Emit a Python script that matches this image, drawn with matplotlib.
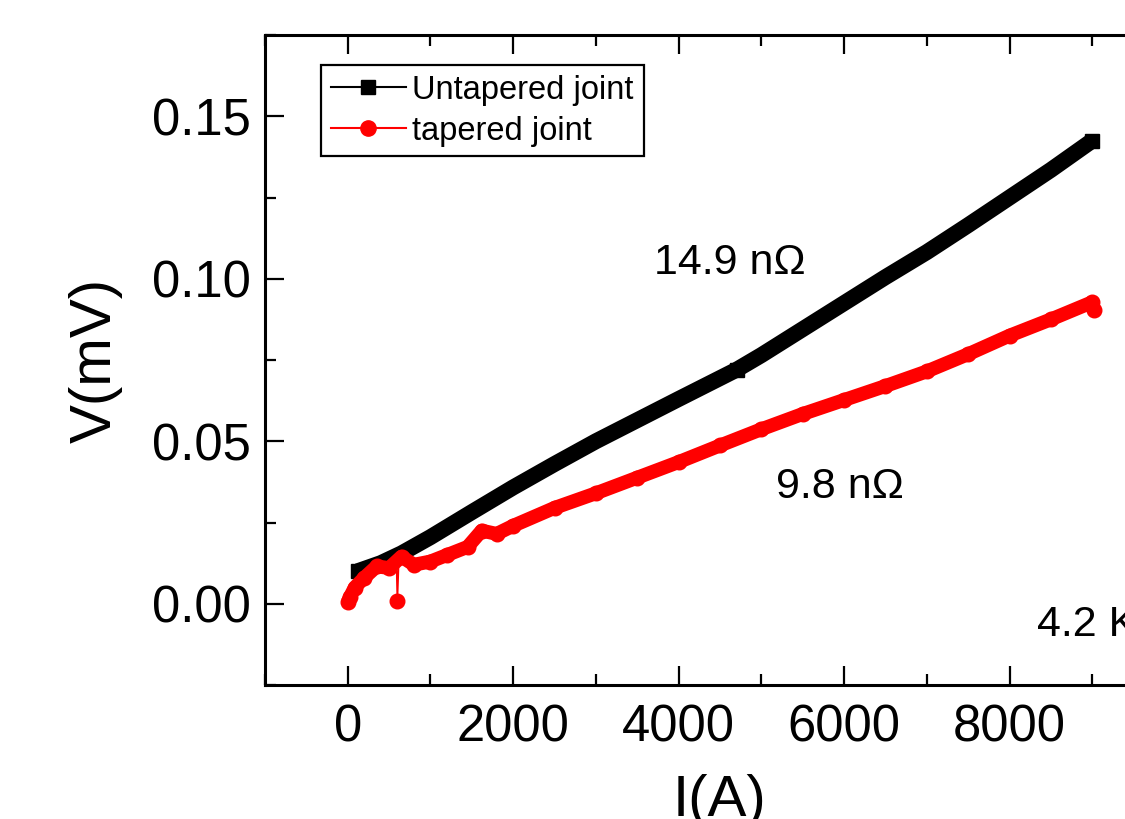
import matplotlib
matplotlib.use("Agg")
from matplotlib import pyplot as plt
from matplotlib.lines import Line2D

plt.rcParams['font.family'] = ['Liberation Sans', 'DejaVu Sans']

# values
untapered_I = [120, 400, 650, 1000, 1500, 2000, 2500, 3000, 3500, 4000, 4700,
               5000, 5500, 6000, 6500, 7000, 7500, 8000, 8500, 9000]
untapered_V = [0.0100, 0.0125, 0.0155, 0.0205, 0.0282, 0.0358, 0.0430, 0.0500,
               0.0565, 0.0630, 0.0720, 0.0765, 0.0845, 0.0925, 0.1005, 0.1082,
               0.1165, 0.1250, 0.1335, 0.1425]

tapered_I = [0, 25, 85, 200, 350, 500, 650, 800, 1000, 1200, 1450, 1620, 1800,
             2000, 2500, 3000, 3500, 4000, 4500, 5000, 5500, 6000, 6500, 7000,
             7500, 8000, 8500, 9000, 9020]
tapered_V = [0.0005, 0.0020, 0.0050, 0.0080, 0.0115, 0.0110, 0.0145, 0.0120,
             0.0130, 0.0150, 0.0175, 0.0225, 0.0215, 0.0240, 0.0295, 0.0340,
             0.0388, 0.0436, 0.0487, 0.0537, 0.0584, 0.0627, 0.0670, 0.0715,
             0.0768, 0.0825, 0.0875, 0.0928, 0.0905]

# single dropout sample in the tapered run
spike_I = [590, 600, 615]
spike_V = [0.0120, 0.0008, 0.0120]

fig = plt.figure(figsize=(11.25, 8.19), dpi=100)
ax = fig.add_axes([265/1125, 134/819, 910/1125, 650/819])

n = len(untapered_I)
ax.plot(untapered_I, untapered_V, color='black', lw=11.5, marker='s', ms=10,
        markevery=[0, 10, n - 1], solid_capstyle='butt', zorder=2)
ax.plot(spike_I, spike_V, color='red', lw=1.2, zorder=3)
ax.plot(spike_I[1:2], spike_V[1:2], 'o', color='red', ms=10.5, zorder=3)
ax.plot(tapered_I, tapered_V, color='red', lw=10, marker='o', ms=10.5,
        solid_capstyle='butt', zorder=3)

ax.set_xlim(-1000, 10000)
ax.set_ylim(-0.025, 0.175)
ax.set_xticks([0, 2000, 4000, 6000, 8000])
ax.set_xticks(range(-1000, 10001, 1000), minor=True)
ax.set_yticks([0.00, 0.05, 0.10, 0.15])
ax.set_yticks([-0.025, 0.025, 0.075, 0.125, 0.175], minor=True)
ax.set_yticklabels(['0.00', '0.05', '0.10', '0.15'])

ax.tick_params(which='both', direction='in', top=True, right=True, width=1.6,
               labelsize=36.5)
ax.tick_params(which='major', length=14, pad=10)
ax.tick_params(axis='x', which='major', pad=13)
ax.tick_params(which='minor', length=8)
for s in ax.spines.values():
    s.set_linewidth(2.2)

ax.set_xlabel('I(A)', fontsize=42, labelpad=16)
ax.set_ylabel('V(mV)', fontsize=42, labelpad=21)

ax.text(3700, 0.105, '14.9 nΩ', fontsize=31, va='center')
ax.text(5180, 0.0358, '9.8 nΩ', fontsize=31, va='center')
ax.text(8330, -0.0065, '4.2 K', fontsize=31, va='center')

handles = [Line2D([], [], color='black', lw=1.5, marker='s', ms=10),
           Line2D([], [], color='red', lw=1.5, marker='o', ms=11)]
leg = ax.legend(handles, ['Untapered joint', 'tapered joint'], loc='upper left',
                bbox_to_anchor=(56/910, 620/650), fontsize=23.5, frameon=True,
                fancybox=False, edgecolor='black', framealpha=1,
                handlelength=2.3, handletextpad=0.2, labelspacing=0.3,
                borderpad=0.3, borderaxespad=0)
leg.get_frame().set_linewidth(1.6)

fig.savefig('out.png', dpi=100)
